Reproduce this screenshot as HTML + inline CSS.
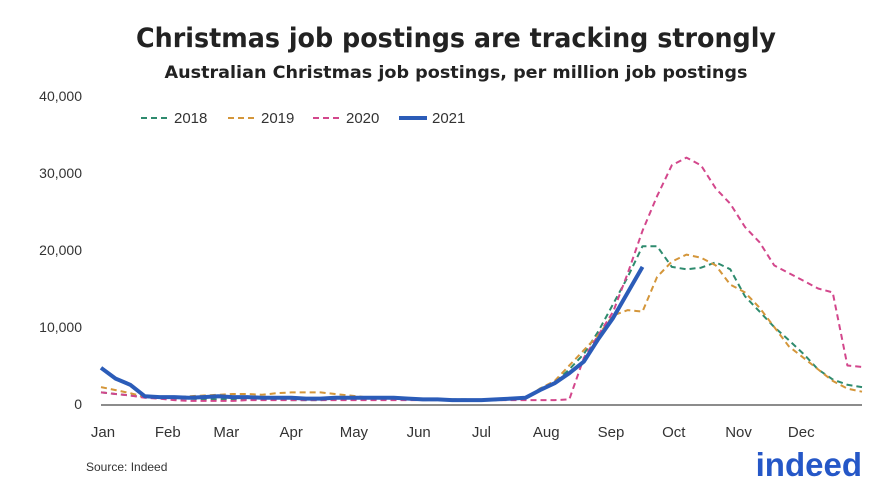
<!DOCTYPE html>
<html><head><meta charset="utf-8">
<style>
body{margin:0;background:#fff;font-family:"Liberation Sans","DejaVu Sans",sans-serif;}
#wrap{position:relative;width:874px;height:488px;overflow:hidden;}
</style></head>
<body>
<div id="wrap">
<svg id="chart" width="874" height="488">
<text x="456" y="47" text-anchor="middle" font-family="DejaVu Sans, sans-serif" font-size="27" font-weight="bold" fill="#222" textLength="640" lengthAdjust="spacingAndGlyphs">Christmas job postings are tracking strongly</text>
<text x="456" y="78" text-anchor="middle" font-family="DejaVu Sans, sans-serif" font-size="17" font-weight="bold" fill="#222" textLength="583" lengthAdjust="spacingAndGlyphs">Australian Christmas job postings, per million job postings</text>
<text x="86" y="471" font-size="12" fill="#333">Source: Indeed</text>
<text x="862" y="476" text-anchor="end" font-size="33" font-weight="bold" fill="#2557c7">indeed</text>
<g id="axes"></g><g id="series"></g><g id="legend"></g>
</svg>
</div>
<script>
const months=["Jan","Feb","Mar","Apr","May","Jun","Jul","Aug","Sep","Oct","Nov","Dec"];
const monthStartDays=[0,31,59,90,120,151,181,212,243,273,304,334];
const yTicks=[0,10000,20000,30000,40000];
const s2018=[1500,1300,1100,900,800,700,700,600,600,600,600,600,600,500,500,500,600,600,600,600,700,700,700,600,600,600,500,500,600,700,2000,2800,4500,6500,9500,13000,16500,20500,20500,17800,17500,17700,18400,17500,14000,12000,10000,8300,6500,4500,3200,2500,2200];
const s2019=[2200,1800,1400,900,900,900,1000,1100,1200,1300,1300,1200,1400,1500,1500,1500,1300,1100,900,700,700,700,600,600,500,500,500,600,700,800,2000,3000,5000,7000,9000,11500,12200,12000,16500,18500,19400,19000,18000,15500,14500,12500,10000,7500,6000,4500,3000,2000,1600];
const s2020=[1500,1300,1100,800,700,500,400,400,400,400,500,500,500,500,500,500,500,500,500,500,500,500,500,500,500,500,500,500,500,500,500,500,600,6000,9000,12000,17000,22500,27000,31000,32000,31000,28000,26000,23000,21000,18000,17000,16000,15000,14500,5000,4800];
const s2021=[4700,3300,2500,1000,900,900,800,900,1000,900,900,800,800,800,700,700,800,800,800,800,800,700,600,600,500,500,500,600,700,800,1800,2700,4000,5500,8500,11200,14500,17800];
const seriesNames=["2018","2019","2020","2021"];
const seriesColors=["#2e8b6e","#d4963a","#d3478c","#2b5cb8"];
const seriesData=[s2018,s2019,s2020,s2021];
const X0=101,X1=862,Y0=404,Y1=96;
const xDay=d=>X0+d*(X1-X0)/364;
const xWeek=w=>xDay(w*7);
const y=v=>Y0-v*(Y0-Y1)/40000;
const NS="http://www.w3.org/2000/svg";
const ax=document.getElementById('axes');
function mk(t,a,p){const e=document.createElementNS(NS,t);for(const k in a)e.setAttribute(k,a[k]);p.appendChild(e);return e;}
yTicks.forEach(v=>{const t=mk('text',{x:82,y:y(v)+5,'text-anchor':'end','font-size':14,fill:'#333'},ax);t.textContent=v.toLocaleString('en-US');

});
const base=mk('line',{x1:X0,x2:X1,y1:Y0+1,y2:Y0+1,stroke:'#666','stroke-width':1.5},ax);


months.forEach((m,i)=>{const t=mk('text',{x:xDay(monthStartDays[i])+2,y:437,'text-anchor':'middle','font-size':15,fill:'#333'},ax);t.textContent=m;

});
const sg=document.getElementById('series');
seriesData.forEach((d,i)=>{const pts=d.map((v,w)=>xWeek(w).toFixed(1)+','+y(v).toFixed(1)).join(' ');
const isSolid=i===3;
const p=mk('polyline',{points:pts,fill:'none',stroke:seriesColors[i],'stroke-width':isSolid?4:2,'stroke-dasharray':isSolid?'none':'6,4','stroke-linejoin':'round'},sg);

});
const lg=document.getElementById('legend');
const lx=[141,228,313,399];
seriesNames.forEach((n,i)=>{const isSolid=i===3;
const l=mk('line',{x1:lx[i],x2:lx[i]+28,y1:118,y2:118,stroke:seriesColors[i],'stroke-width':isSolid?4:2,'stroke-dasharray':isSolid?'none':'6,4'},lg);


const t=mk('text',{x:lx[i]+33,y:123,'font-size':15,fill:'#333'},lg);t.textContent=n;

});
</script>
</body></html>
